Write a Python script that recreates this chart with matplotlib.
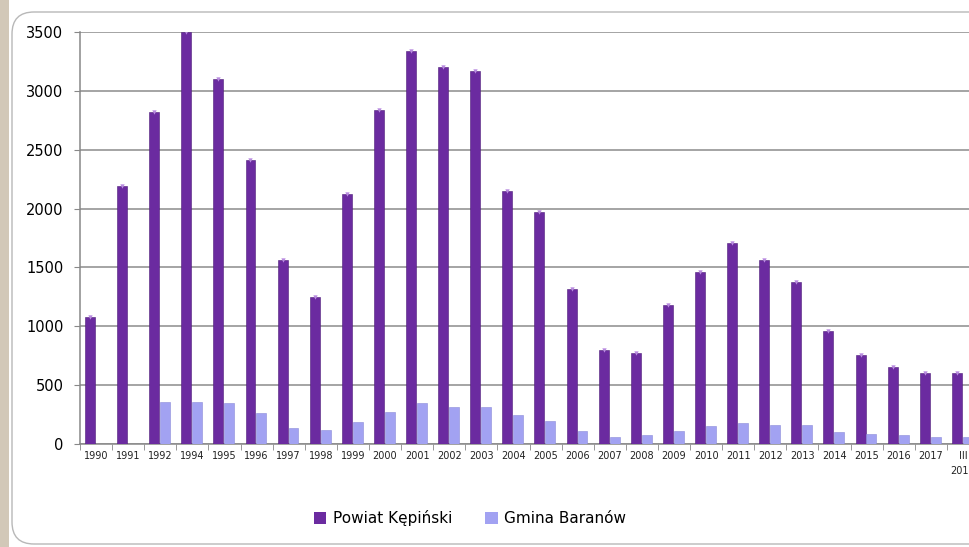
import numpy as np
import matplotlib
matplotlib.use("Agg")
import matplotlib.pyplot as plt
from matplotlib.patches import FancyBboxPatch, Rectangle

years = ["1990", "1991", "1992", "1994", "1995", "1996", "1997", "1998", "1999",
         "2000", "2001", "2002", "2003", "2004", "2005", "2006", "2007", "2008",
         "2009", "2010", "2011", "2012", "2013", "2014", "2015", "2016", "2017",
         "III\n2018"]
powiat = [1075, 2190, 2820, 3500, 3100, 2410, 1560, 1250, 2120, 2840, 3340, 3200,
          3170, 2150, 1970, 1320, 800, 770, 1180, 1460, 1710, 1560, 1380, 960,
          760, 650, 600, 600]
gmina = [0, 0, 355, 355, 352, 265, 135, 122, 190, 275, 345, 318, 318, 245, 192,
         112, 60, 74, 112, 150, 178, 165, 165, 100, 88, 76, 60, 62]

W, H = 970, 547
fig = plt.figure(figsize=(9.7, 5.47), dpi=100)

# background: tan strip on the left, rounded white-to-beige panel
bg = fig.add_axes([0, 0, 1, 1])
bg.set_xlim(0, W)
bg.set_ylim(0, H)
bg.axis("off")
bg.add_patch(Rectangle((0, 0), W, H, facecolor="white", edgecolor="none"))
bg.add_patch(Rectangle((0, 0), 9, H, facecolor="#d2c8b8", edgecolor="none"))
panel = FancyBboxPatch((12, 3), W + 40, H - 15, boxstyle="round,pad=0,rounding_size=22",
                       facecolor="none", edgecolor="#b8b8b8", linewidth=1.0)
bg.add_patch(panel)
grad = np.linspace(0, 1, 256).reshape(-1, 1)
top = np.array([1.0, 1.0, 1.0])
bot = np.array([0xe9, 0xe6, 0xdf]) / 255
img = bot * (1 - grad[..., None]) + top * grad[..., None]
im = bg.imshow(img, extent=(12, W + 52, 3, H - 12), aspect="auto", origin="lower", zorder=0)
im.set_clip_path(panel)

# chart area
x0, x1 = 80, 979
y0, y1 = 444, 32
ax = fig.add_axes([x0 / W, (H - y0) / H, (x1 - x0) / W, (y0 - y1) / H])
ax.set_facecolor("none")
n = len(years)
x = np.arange(n)
ax.bar(x - 0.19, powiat, width=0.31, color="#6b2ba0", edgecolor="#4e1d7a",
       linewidth=0.4, zorder=3)
ax.bar(x + 0.15, gmina, width=0.31, color="#a2a2f2", edgecolor="#8a8ad8",
       linewidth=0.4, zorder=3)
# small highlight cap on the purple columns
ax.scatter(x - 0.19, powiat, marker="v", s=10, color="#b98be0", zorder=4, linewidths=0)

ax.set_xlim(-0.5, n - 0.5)
ax.set_ylim(0, 3500)
ax.set_yticks(range(0, 3501, 500))
ax.yaxis.grid(True, color="#8c8c8c", linewidth=1.1, zorder=0)
ax.set_axisbelow(True)
ax.set_xticks(x)
ax.set_xticklabels(years, fontsize=7, color="#222222", linespacing=1.6)
ax.set_xticks(np.arange(-0.5, n, 1), minor=True)
ax.tick_params(axis="x", which="major", length=0, pad=5)
ax.tick_params(axis="x", which="minor", length=4, color="#888888")
ax.tick_params(axis="y", length=4, color="#888888", labelsize=10.5, pad=8)
for s in ["top", "right"]:
    ax.spines[s].set_visible(False)
ax.spines["left"].set_color("#888888")
ax.spines["bottom"].set_color("#888888")
ax.spines["left"].set_linewidth(1.1)
ax.spines["bottom"].set_linewidth(1.1)

handles = [Rectangle((0, 0), 1, 1, facecolor="#6b2ba0"),
           Rectangle((0, 0), 1, 1, facecolor="#a2a2f2")]
fig.legend(handles, ["Powiat Kępiński", "Gmina Baranów"], loc="center",
           bbox_to_anchor=(470 / W, (H - 518) / H), ncol=2, frameon=False,
           fontsize=11, handlelength=0.8, handleheight=0.8, handletextpad=0.4,
           columnspacing=2.2)

fig.savefig("out.png", dpi=100)
